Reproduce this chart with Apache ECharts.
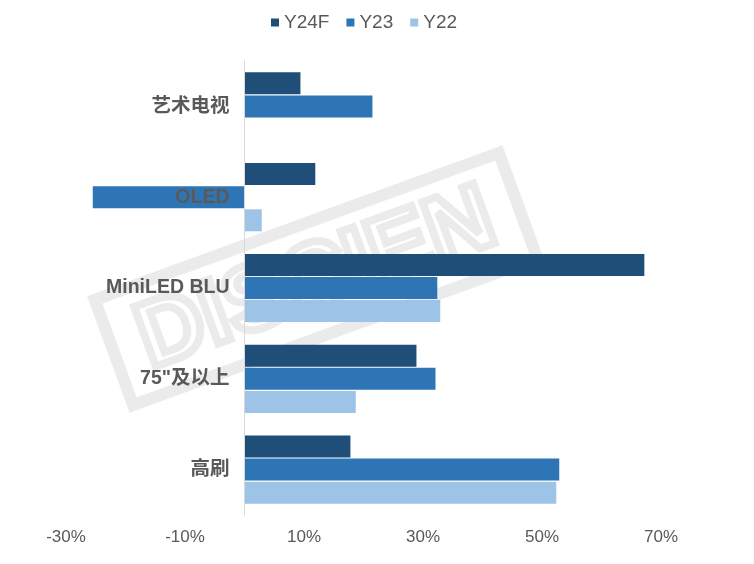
<!DOCTYPE html>
<html><head><meta charset="utf-8">
<script src="https://cdn.jsdelivr.net/npm/echarts@6/dist/echarts.min.js"></script>
<style>html,body{margin:0;padding:0;background:#fff}#c{width:754px;height:564px}</style>
</head><body><div id="c"></div>
<script>
const categories = ['艺术电视', 'OLED', 'MiniLED BLU', '75"及以上', '高刷'];
const seriesNames = ['Y24F', 'Y23', 'Y22'];
const y24f = [9.4, 11.9, 67.2, 28.9, 17.8];
const y23 = [21.5, -25.5, 32.4, 32.1, 52.9];
const y22 = [null, 2.9, 32.9, 18.7, 52.4];
const colors = ['#1F4E79', '#2E75B6', '#9DC3E6'];
const xMin = -30, xMax = 70, xInterval = 20;

const chart = echarts.init(document.getElementById('c'));
const values = [y24f, y23, y22];
const wm = 'rgba(120,120,120,0.15)';
const gridLeft = 66, gridRight = 93;
const plotW = 754 - gridLeft - gridRight;
const zeroX = gridLeft + (0 - xMin) / (xMax - xMin) * plotW;
chart.setOption({
  animation: false,
  legend: {
    top: 8, left: 266, icon: 'rect', itemWidth: 8, itemHeight: 8, itemGap: 17,
    textStyle: { fontSize: 19, color: '#595959', fontFamily: 'Liberation Sans' },
    data: seriesNames
  },
  grid: { left: gridLeft, right: gridRight, top: 61, bottom: 49, containLabel: false, outerBoundsMode: 'none' },
  xAxis: {
    type: 'value', min: xMin, max: xMax, interval: xInterval,
    splitLine: { show: false }, axisLine: { show: false }, axisTick: { show: false },
    axisLabel: { formatter: v => v + '%', fontSize: 17, color: '#595959', fontFamily: 'Liberation Sans', margin: 14 }
  },
  yAxis: {
    type: 'category', data: categories, inverse: true, z: 10,
    axisLine: { onZero: true, lineStyle: { color: '#D9D9D9', width: 1 } },
    axisTick: { show: false },
    axisLabel: { fontSize: 19.5, fontWeight: 'bold', color: '#595959', margin: -(zeroX - gridLeft - 15),
      fontFamily: '"Liberation Sans", "Noto Sans CJK SC"' }
  },
  series: seriesNames.map((n, i) => ({
    name: n, type: 'bar', data: values[i], barWidth: 22, barGap: '5%',
    itemStyle: { color: colors[i] }, z: 2
  })),
  graphic: [{
    type: 'group', x: 316, y: 279, rotation: 20 * Math.PI / 180, z: 100, silent: true,
    children: [
      { type: 'rect', shape: { x: -215, y: -56, width: 430, height: 112 },
        style: { fill: 'none', stroke: wm, lineWidth: 12 } },
      { type: 'text', x: 0, y: 2,
        style: { text: 'DISCIEN', font: 'bold 92px "Liberation Sans"', fill: 'none',
          stroke: wm, lineWidth: 8, align: 'center', verticalAlign: 'middle' } }
    ]
  }]
});
</script></body></html>
